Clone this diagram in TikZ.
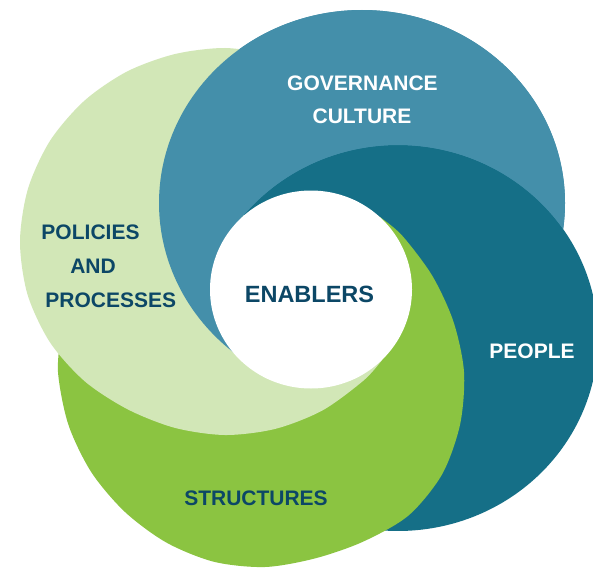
\documentclass[tikz,border=0pt]{standalone}
\usepackage{fontspec}
\setmainfont{Liberation Sans}
\definecolor{lightleaf}{HTML}{D2E7B7}
\definecolor{steel}{HTML}{448FAA}
\definecolor{deepteal}{HTML}{156F87}
\definecolor{leaf}{HTML}{8BC441}
\definecolor{navy}{HTML}{0C4766}
\begin{document}
\begin{tikzpicture}[x=1pt,y=-1pt,
  txtbase/.style={font=\bfseries\fontsize{21}{21}\selectfont, inner sep=0pt, anchor=center},
  txtdark/.style={txtbase, text=navy},
  txtlight/.style={txtbase, text=white}]
\fill[white] (0,0) rectangle (593,567);
\useasboundingbox (0,0) rectangle (593,567);
\coordinate (O) at (311,289.5);

% governance ring, full ellipse underneath everything
\fill[steel] (362,203) ellipse [x radius=203pt, y radius=193pt];

% people ring (front edge over governance)
\fill[deepteal] (O) -- plot[domain=217:460, samples=160, variable=\t]
  ({398+200*cos(\t)},{338+193*sin(\t)}) -- (320,470) -- cycle;

% structures ring (front edge over people)
\fill[leaf] (O) -- plot[smooth] coordinates {(379.4,216.7) (401.8,235.2)
  (432.1,275.5) (453.4,321.5) (464,372) (460.1,424.3) (442.1,474.3) (408.5,515.5)
  (363,541.7) (315,558.4) (265,567) (214.1,561.8) (166.5,542.6) (125,512)
  (91.4,472.3) (68.4,424.7) (58,372) (61.5,328.8)} -- (100,320) -- (210,300) -- cycle;

% policies ring (front edge over structures)
\fill[lightleaf] (O) -- plot[smooth] coordinates {(382.4,359.5) (363.8,380.3)
  (322.5,410.4) (275.2,428.9) (225,435) (175.05,427.9) (128,409.5) (85,381.5)
  (50.1,342.5) (27.5,294.4) (20,241.5) (28,188.7) (50.2,140.55) (84.3,100.8)
  (126.9,71.6) (174.8,54.1) (225,48) (275.1,54.6)} -- (235,205) -- cycle;

% governance crescent again, its front edge over policies
\fill[steel] (O) -- plot[domain=128:367.75, samples=200, variable=\t]
  ({362+203*cos(\t)},{203+193*sin(\t)})
  -- plot[domain=217:325.6, samples=120, variable=\t]
  ({398+200*cos(542.6-\t)},{338+193*sin(542.6-\t)}) -- cycle;

% central disc
\fill[white] (O) ellipse [x radius=101pt, y radius=99pt];

\node[txtlight] (gov) at (362.5,82.8) {GOVERNANCE};
\node[txtlight] (cul) at (362,116.5) {CULTURE};
\node[txtdark] (pol) at (90.5,232.3) {POLICIES};
\node[txtdark] (and) at (93,266.5) {AND};
\node[txtdark] (proc) at (110.8,300.3) {PROCESSES};
\node[txtdark, font=\bfseries\fontsize{23.5}{23.5}\selectfont] (en) at (309.5,294.2) {ENABLERS};
\node[txtlight] (ppl) at (532,350.8) {PEOPLE};
\node[txtdark] (str) at (256,498) {STRUCTURES};
\end{tikzpicture}
\end{document}
